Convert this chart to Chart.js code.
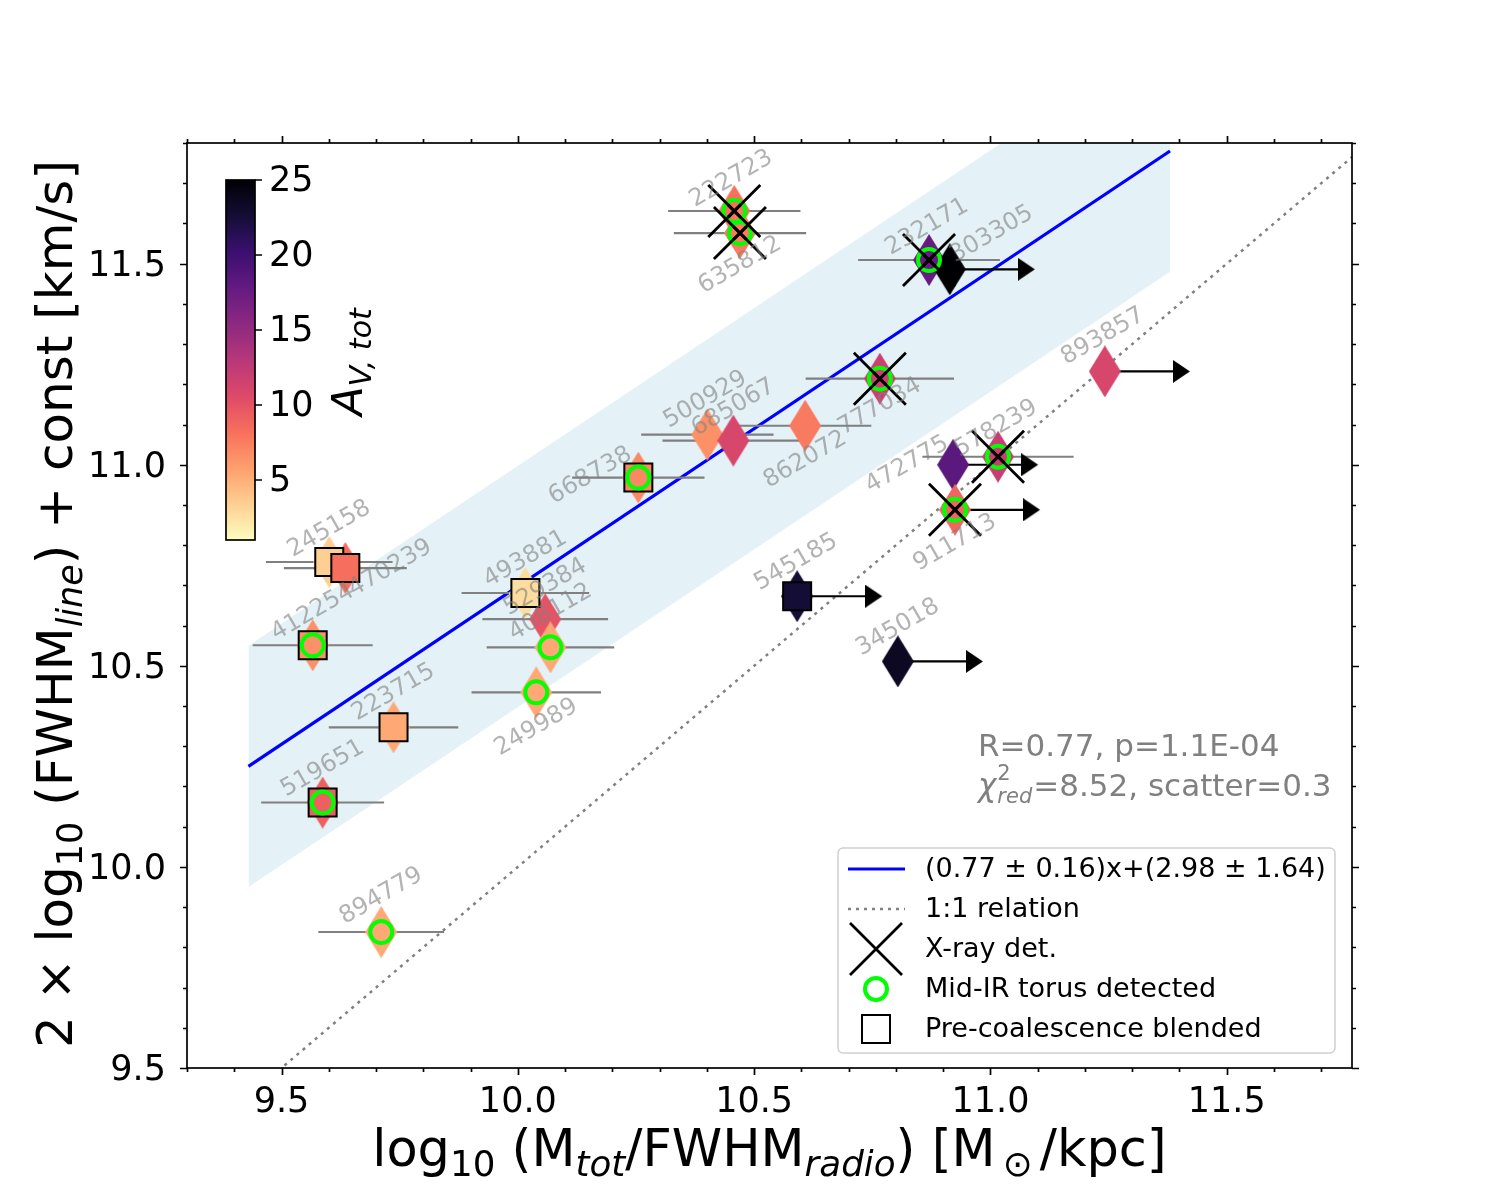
<!DOCTYPE html>
<html>
<head>
<meta charset="utf-8">
<title>FWHM line vs Mtot/FWHM radio</title>
<script src="https://cdn.jsdelivr.net/npm/chart.js@4.4.1/dist/chart.umd.min.js"></script>
<style>
  body { margin: 0; background: #fff; }
</style>
</head>
<body>
<canvas id="myChart" width="1500" height="1200"></canvas>
<script>
const FONT = "'DejaVu Sans', 'Liberation Sans', sans-serif";

// SOURCES
const ids = ['222723', '635812', '232171', '303305', '777034', '893857', '500929', '685067', '862072', '668738',
    '472775', '578239', '911713', '545185', '345018', '245158', '470239', '412254', '493881', '529384',
    '408112', '249989', '223715', '519651', '894779'];
// log10(Mtot/FWHM radio)
const massRatio = [10.458, 10.470, 10.870, 10.914, 10.766, 11.242, 10.401, 10.456, 10.608, 10.255,
    10.921, 11.016, 10.925, 10.591, 10.804, 9.601, 9.635, 9.566, 10.016, 10.058,
    10.069, 10.039, 9.737, 9.587, 9.711];
// 2 x log10(FWHM line) + const
const lineTerm = [11.631, 11.576, 11.509, 11.486, 11.214, 11.232, 11.075, 11.060, 11.097, 10.968,
    11.000, 11.020, 10.888, 10.673, 10.511, 10.758, 10.743, 10.551, 10.681, 10.616,
    10.546, 10.434, 10.347, 10.160, 9.838];
const massErr = [0.14, 0.14, 0.15, 0, 0.157, 0, 0.14, 0.15, 0.14, 0.14,
    0, 0.16, 0, 0, 0, 0.134, 0.13, 0.127, 0.135, 0.133,
    0.135, 0.137, 0.137, 0.13, 0.133];
const avTot = [8.2, 7.6, 17.6, 25, 11.8, 11, 6.5, 11, 7.7, 7,
    18.3, 12, 8.9, 22.6, 23.5, 3.4, 8.3, 6.5, 2.7, 9.9,
    5.3, 5.3, 5.3, 9.2, 5.3];
const lowerLimit = [0, 0, 0, 1, 0, 1, 0, 0, 0, 0, 1, 0, 1, 1, 1, 0, 0, 0, 0, 0, 0, 0, 0, 0, 0];
const xrayDet    = [1, 1, 1, 0, 1, 0, 0, 0, 0, 0, 0, 1, 1, 0, 0, 0, 0, 0, 0, 0, 0, 0, 0, 0, 0];
const torusDet   = [1, 1, 1, 0, 1, 0, 0, 0, 0, 1, 0, 1, 1, 0, 0, 0, 0, 1, 0, 0, 1, 1, 0, 1, 1];
const blended    = [0, 0, 0, 0, 0, 0, 0, 0, 0, 1, 0, 0, 0, 1, 0, 1, 1, 1, 1, 0, 0, 0, 1, 1, 0];

// FIT, SCATTER BAND, 1:1
const fitX = [9.43, 11.38];
const fitY = [10.25, 11.78];
const fitScatter = 0.3;
const oneToOne = [9.3, 11.8];

// TICKS
const xTicks = [9.5, 10.0, 10.5, 11.0, 11.5];
const yTicks = [9.5, 10.0, 10.5, 11.0, 11.5];
const cbTicks = [5, 10, 15, 20, 25];
const avRange = [1, 25];

// label placement, pixels from the point
const labelShift = [[-3, -32], [0, 32], [-2, -33], [42, -35], [0, 28], [-2, -35], [-2, -35], [0, -33], [0, 34], [-48, -2],
    [-46, 0], [-2, -28], [0, 33], [-1, -34], [0, -34], [0, -33], [45, 0], [0, -33], [0, -34], [0, -32],
    [0, -35], [0, 35], [0, -35], [0, -34], [0, -36]];

const ARROW_LEN = 0.18;

//MAGMA COLOURS
const magmaStops = ['#000004', '#140e36', '#3b0f70', '#641a80', '#8c2981', '#b73779',
    '#de4968', '#f7705c', '#fe9f6d', '#fecf92', '#fcfdbf'];
function hexRgb(h) {
    return [1, 3, 5].map(k => parseInt(h.substr(k, 2), 16));
}
function magma(t) {
    t = Math.min(1, Math.max(0, t));
    const f = t * 10;
    const k = Math.min(9, Math.floor(f));
    const a = hexRgb(magmaStops[k]), b = hexRgb(magmaStops[k + 1]);
    const u = f - k;
    const c = a.map((v, j) => Math.round(v + (b[j] - v) * u));
    return `rgb(${c[0]},${c[1]},${c[2]})`;
}
function avColor(av) {
    return magma(1 - (av - avRange[0]) / (avRange[1] - avRange[0]));
}

function diamondImg(color) {
    const c = document.createElement('canvas');
    c.width = 32; c.height = 52;
    const g = c.getContext('2d');
    g.fillStyle = color;
    g.beginPath();
    g.moveTo(16, 0); g.lineTo(32, 26); g.lineTo(16, 52); g.lineTo(0, 26);
    g.closePath();
    g.fill();
    return c;
}
function arrowHeadImg() {
    const c = document.createElement('canvas');
    c.width = 34; c.height = 23;
    const g = c.getContext('2d');
    g.fillStyle = '#000';
    g.beginPath();
    g.moveTo(0, 0); g.lineTo(17, 11.5); g.lineTo(0, 23);
    g.closePath();
    g.fill();
    return c;
}
const diamonds = avTot.map(av => diamondImg(avColor(av)));
const arrowHead = arrowHeadImg();

// BUILD DATASET POINTS
const pts = ids.map((id, i) => ({ x: massRatio[i], y: lineTerm[i], i }));
const pick = flags => pts.filter(p => flags[p.i]);

let errData = [];
for (let p of pts) {
    const e = massErr[p.i];
    if (e > 0) {
        errData.push({ x: p.x - e, y: p.y }, { x: p.x + e, y: p.y }, { x: p.x + e, y: null });
    }
}
let shaftData = [];
let headData = [];
for (let p of pick(lowerLimit)) {
    shaftData.push({ x: p.x, y: p.y }, { x: p.x + ARROW_LEN - 0.02, y: p.y }, { x: p.x + ARROW_LEN, y: null });
    headData.push({ x: p.x + ARROW_LEN, y: p.y });
}

function drawRich(c, parts, x, y, size, align) {
    const segs = parts.map(p => {
        const fs = (p.sub || p.sup) ? size * 0.7 : size;
        const font = (p.it ? 'italic ' : '') + fs + 'px ' + FONT;
        c.font = font;
        return { t: p.t, font, w: c.measureText(p.t).width, dy: p.sub ? size * 0.2 : (p.sup ? -size * 0.35 : 0) };
    });
    const total = segs.reduce((s, g) => s + g.w, 0);
    let cx = align === 'center' ? x - total / 2 : (align === 'right' ? x - total : x);
    c.textAlign = 'left';
    c.textBaseline = 'alphabetic';
    for (let g of segs) {
        c.font = g.font;
        c.fillText(g.t, cx, y + g.dy);
        cx += g.w;
    }
    return total;
}

// FRAME AND TICKS ON ALL SIDES
const frameTicks = {
    id: 'frameTicks',
    afterDatasetsDraw(chart) {
        const { ctx, chartArea: a, scales: { x, y } } = chart;
        ctx.save();
        ctx.strokeStyle = '#000';
        ctx.lineWidth = 1.7;
        ctx.strokeRect(a.left, a.top, a.right - a.left, a.bottom - a.top);
        ctx.beginPath();
        for (let k = Math.ceil(x.min * 10); k <= Math.floor(x.max * 10); k++) {
            const len = k % 5 === 0 ? 7 : 4;
            const px = Math.round(x.getPixelForValue(k / 10)) + 0.5;
            ctx.moveTo(px, a.bottom); ctx.lineTo(px, a.bottom + len);
            ctx.moveTo(px, a.top); ctx.lineTo(px, a.top - len);
        }
        for (let k = Math.ceil(y.min * 10); k <= Math.floor(y.max * 10); k++) {
            const len = k % 5 === 0 ? 7 : 4;
            const py = Math.round(y.getPixelForValue(k / 10)) + 0.5;
            ctx.moveTo(a.left, py); ctx.lineTo(a.left - len, py);
            ctx.moveTo(a.right, py); ctx.lineTo(a.right + len, py);
        }
        ctx.stroke();

        // source names
        ctx.font = '24px ' + FONT;
        ctx.textAlign = 'center';
        ctx.textBaseline = 'middle';
        ctx.fillStyle = 'rgba(128,128,128,0.6)';
        ids.forEach((id, i) => {
            const px = x.getPixelForValue(massRatio[i]) + labelShift[i][0];
            const py = y.getPixelForValue(lineTerm[i]) + labelShift[i][1];
            ctx.save();
            ctx.translate(px, py);
            ctx.rotate(-Math.PI / 6);
            ctx.fillText(id, 0, 0);
            ctx.restore();
        });
        ctx.restore();
    }
};

// TITLES, STATS, COLORBAR, LEGEND
const extras = {
    id: 'extras',
    afterDraw(chart) {
        const ctx = chart.ctx;
        const a = chart.chartArea;
        ctx.save();
        ctx.fillStyle = '#000';
        drawRich(ctx, [{ t: 'log' }, { t: '10', sub: 1 }, { t: ' (M' }, { t: 'tot', sub: 1, it: 1 }, { t: '/FWHM' },
            { t: 'radio', sub: 1, it: 1 }, { t: ') [M' }, { t: '\u2009\u2299\u2009', sub: 1 }, { t: '/kpc]' }],
            (a.left + a.right) / 2, 1166, 51, 'center');
        ctx.save();
        ctx.translate(72, 604);
        ctx.rotate(-Math.PI / 2);
        drawRich(ctx, [{ t: '2 \u00d7 log' }, { t: '10', sub: 1 }, { t: ' (FWHM' }, { t: 'line', sub: 1, it: 1 },
            { t: ') + const [km/s]' }], 0, 0, 50, 'center');
        ctx.restore();

        // stats text
        ctx.fillStyle = '#808080';
        drawRich(ctx, [{ t: 'R=0.77, p=1.1E-04' }], 978, 756, 31, 'left');
        ctx.font = 'italic 31px ' + FONT;
        ctx.fillText('\u03c7', 978, 796);
        const wChi = ctx.measureText('\u03c7').width;
        ctx.font = '21px ' + FONT;
        ctx.fillText('2', 978 + wChi + 1, 780);
        ctx.font = 'italic 21px ' + FONT;
        ctx.fillText('red', 978 + wChi + 1, 803);
        const wRed = ctx.measureText('red').width;
        drawRich(ctx, [{ t: '=8.52, scatter=0.3' }], 978 + wChi + wRed + 2, 796, 31, 'left');

        // colorbar
        const cb = { l: 226, r: 255, t: 180, b: 540 };
        const grad = ctx.createLinearGradient(0, cb.b, 0, cb.t);
        magmaStops.slice().reverse().forEach((c, k) => grad.addColorStop(k / 10, c));
        ctx.fillStyle = grad;
        ctx.fillRect(cb.l, cb.t, cb.r - cb.l, cb.b - cb.t);
        ctx.strokeStyle = '#000';
        ctx.lineWidth = 1.7;
        ctx.strokeRect(cb.l, cb.t, cb.r - cb.l, cb.b - cb.t);
        ctx.fillStyle = '#000';
        ctx.font = '35px ' + FONT;
        ctx.textAlign = 'left';
        ctx.textBaseline = 'middle';
        ctx.beginPath();
        for (let v of cbTicks) {
            const py = cb.b - (v - avRange[0]) / (avRange[1] - avRange[0]) * (cb.b - cb.t);
            ctx.moveTo(cb.r, py); ctx.lineTo(cb.r + 7, py);
            ctx.fillText(String(v), 269, py + 2);
        }
        ctx.stroke();
        ctx.save();
        ctx.translate(362, 362);
        ctx.rotate(-Math.PI / 2);
        drawRich(ctx, [{ t: 'A', it: 1 }, { t: 'V, tot', sub: 1, it: 1 }], 0, 0, 43, 'center');
        ctx.restore();

        // legend
        const lg = { x: 838, y: 848, w: 497, h: 205 };
        ctx.beginPath();
        ctx.roundRect(lg.x, lg.y, lg.w, lg.h, 5);
        ctx.fillStyle = 'rgba(255,255,255,0.8)';
        ctx.fill();
        ctx.strokeStyle = '#d0d0d0';
        ctx.lineWidth = 1.5;
        ctx.stroke();
        const hx = 876;
        const rows = [869, 909, 949, 989, 1029];
        ctx.lineWidth = 3.2;
        ctx.strokeStyle = '#0000ff';
        ctx.beginPath(); ctx.moveTo(848, rows[0]); ctx.lineTo(905, rows[0]); ctx.stroke();
        ctx.lineWidth = 2.5;
        ctx.strokeStyle = '#808080';
        ctx.setLineDash([3, 5]);
        ctx.beginPath(); ctx.moveTo(848, rows[1]); ctx.lineTo(905, rows[1]); ctx.stroke();
        ctx.setLineDash([]);
        ctx.strokeStyle = '#000';
        ctx.lineWidth = 2.8;
        ctx.beginPath();
        ctx.moveTo(hx - 26, rows[2] - 26); ctx.lineTo(hx + 26, rows[2] + 26);
        ctx.moveTo(hx + 26, rows[2] - 26); ctx.lineTo(hx - 26, rows[2] + 26);
        ctx.stroke();
        ctx.strokeStyle = '#00ff00';
        ctx.lineWidth = 4;
        ctx.beginPath(); ctx.arc(hx, rows[3], 11, 0, Math.PI * 2); ctx.stroke();
        ctx.strokeStyle = '#000';
        ctx.lineWidth = 2;
        ctx.strokeRect(hx - 14, rows[4] - 14, 28, 28);
        ctx.fillStyle = '#000';
        ctx.font = '27px ' + FONT;
        ctx.textAlign = 'left';
        ctx.textBaseline = 'middle';
        const texts = ['(0.77 \u00b1 0.16)x+(2.98 \u00b1 1.64)', '1:1 relation', 'X-ray det.',
            'Mid-IR torus detected', 'Pre-coalescence blended'];
        texts.forEach((t, k) => ctx.fillText(t, 925, rows[k] + 1));
        ctx.restore();
    }
};

const tickFont = { family: FONT, size: 35 };
let ctx = document.getElementById('myChart').getContext('2d');
new Chart(ctx, {
    type: 'scatter',
    data: {
        datasets: [
            {
                data: fitX.map((x, k) => ({ x, y: fitY[k] + fitScatter })),
                showLine: true, borderWidth: 0, pointRadius: 0, fill: false, order: 20
            },
            {
                data: fitX.map((x, k) => ({ x, y: fitY[k] - fitScatter })),
                showLine: true, borderWidth: 0, pointRadius: 0, fill: '-1',
                backgroundColor: 'rgba(173,216,230,0.33)', order: 19
            },
            {
                data: oneToOne.map(v => ({ x: v, y: v })),
                showLine: true, borderColor: '#808080', borderWidth: 2.5, borderDash: [3, 5],
                pointRadius: 0, order: 18
            },
            {
                data: fitX.map((x, k) => ({ x, y: fitY[k] })),
                showLine: true, borderColor: '#0000ff', borderWidth: 3.2, pointRadius: 0, order: 17
            },
            {
                data: errData,
                showLine: true, borderColor: '#808080', borderWidth: 2.1, pointRadius: 0, order: 16
            },
            {
                data: shaftData,
                showLine: true, borderColor: '#000', borderWidth: 2.2, pointRadius: 0, order: 15
            },
            {
                data: headData,
                pointStyle: arrowHead, pointRadius: 12, order: 14
            },
            {
                data: pts,
                pointStyle: c => diamonds[c.raw.i], pointRadius: 26, order: 13
            },
            {
                data: pick(blended),
                pointStyle: 'rect', pointRadius: 19.8,
                backgroundColor: c => avColor(avTot[c.raw.i]),
                borderColor: '#000', borderWidth: 2, order: 12
            },
            {
                data: pick(torusDet),
                pointStyle: 'circle', pointRadius: 11,
                backgroundColor: 'rgba(0,0,0,0)', borderColor: '#00ff00', borderWidth: 4, order: 11
            },
            {
                data: pick(xrayDet),
                pointStyle: 'crossRot', pointRadius: 36.8, borderColor: '#000', borderWidth: 2.8, order: 10
            },
            {
                data: pick(xrayDet),
                pointStyle: 'crossRot', pointRadius: 9, borderColor: '#000', borderWidth: 3, order: 9
            }
        ]
    },
    options: {
        responsive: false,
        animation: false,
        events: [],
        layout: { padding: { left: 0, top: 143, right: 148, bottom: 0 } },
        plugins: {
            legend: { display: false },
            tooltip: { enabled: false }
        },
        scales: {
            x: {
                type: 'linear', position: 'bottom', min: 9.3, max: 11.765,
                grid: { display: false }, border: { display: false },
                afterBuildTicks: s => { s.ticks = xTicks.map(v => ({ value: v })); },
                ticks: { color: '#000', font: tickFont, padding: 6, maxRotation: 0,
                    callback: v => Number(v).toFixed(1) },
                afterFit: s => { s.height = 132; }
            },
            y: {
                type: 'linear', position: 'left', min: 9.5, max: 11.8,
                grid: { display: false }, border: { display: false },
                afterBuildTicks: s => { s.ticks = yTicks.map(v => ({ value: v })); },
                ticks: { color: '#000', font: tickFont, padding: 13, labelOffset: 3,
                    callback: v => Number(v).toFixed(1) },
                afterFit: s => { s.width = 187; }
            }
        }
    },
    plugins: [frameTicks, extras]
});
</script>
</body>
</html>
